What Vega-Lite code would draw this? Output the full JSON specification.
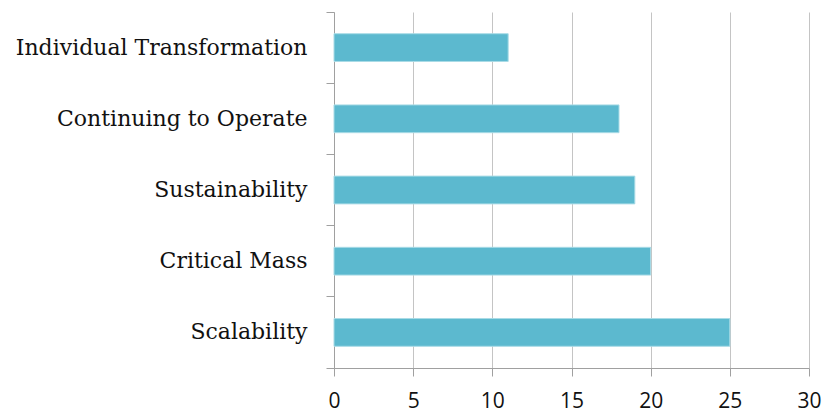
{
  "$schema": "https://vega.github.io/schema/vega-lite/v6.json",
  "width": 475,
  "height": 356,
  "autosize": {"type": "none"},
  "padding": {"left": 334, "top": 12, "right": 26, "bottom": 47},
  "background": "white",
  "config": {"view": {"stroke": null}},
  "data": {
    "values": [
      {"category": "Individual Transformation", "value": 11},
      {"category": "Continuing to Operate", "value": 18},
      {"category": "Sustainability", "value": 19},
      {"category": "Critical Mass", "value": 20},
      {"category": "Scalability", "value": 25}
    ]
  },
  "mark": {"type": "bar", "height": {"band": 0.39}, "color": "#5cb9cf", "stroke": "#a9dbe6", "strokeWidth": 1},
  "encoding": {
    "y": {
      "field": "category",
      "type": "nominal",
      "sort": null,
      "title": null,
      "scale": {"paddingInner": 0, "paddingOuter": 0},
      "axis": {
        "bandPosition": 1,
        "tickExtra": true,
        "tickSize": 8,
        "tickColor": "#a0a0a0",
        "domainColor": "#a0a0a0",
        "labelFont": "DejaVu Serif",
        "labelFontSize": 22,
        "labelColor": "#111111",
        "labelPadding": 19,
        "labelLimit": 0,
        "grid": false
      }
    },
    "x": {
      "field": "value",
      "type": "quantitative",
      "title": null,
      "scale": {"domain": [0, 30], "nice": false},
      "axis": {
        "values": [0, 5, 10, 15, 20, 25, 30],
        "grid": true,
        "gridColor": "#c4c4c4",
        "tickSize": 8,
        "tickColor": "#a0a0a0",
        "domainColor": "#a0a0a0",
        "labelFont": "Open Sans",
        "labelFontSize": 21,
        "labelColor": "#111111",
        "labelPadding": 14,
        "labelFlush": false
      }
    }
  }
}
